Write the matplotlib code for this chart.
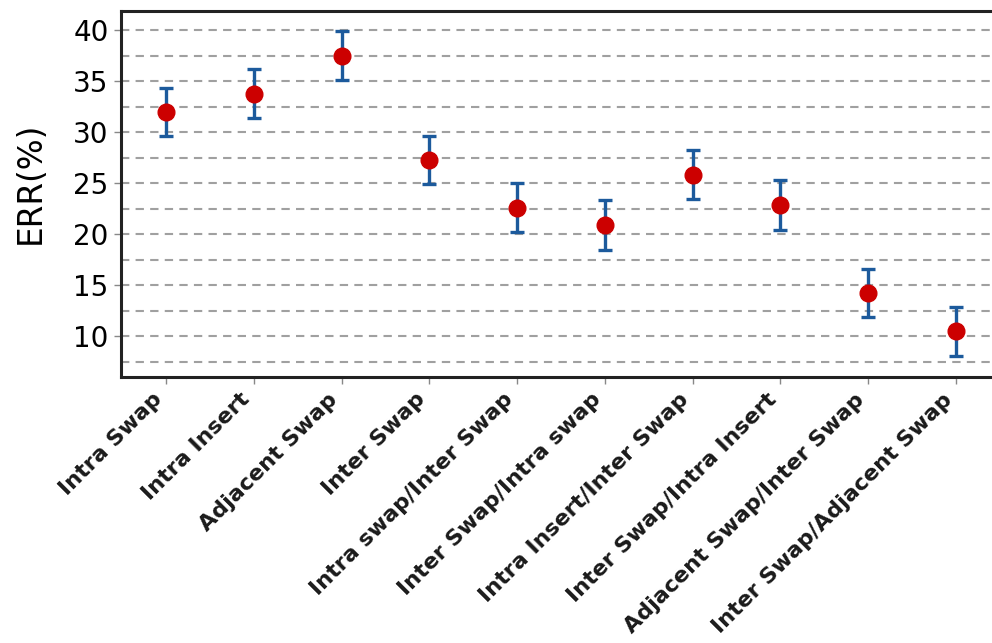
import matplotlib
matplotlib.use("Agg")
import matplotlib.pyplot as plt
import matplotlib.transforms as mtransforms
from matplotlib.ticker import MultipleLocator

# Neighbourhood operators and their ERR values (mean and error half-width)
operators = [
    "Intra Swap", "Intra Insert", "Adjacent Swap", "Inter Swap",
    "Intra swap/Inter Swap", "Inter Swap/Intra swap",
    "Intra Insert/Inter Swap", "Inter Swap/Intra Insert",
    "Adjacent Swap/Inter Swap", "Inter Swap/Adjacent Swap",
]
err_mean = [32.0, 33.8, 37.5, 27.3, 22.6, 20.9, 25.85, 22.85, 14.2, 10.5]
err_half = [2.35, 2.4, 2.4, 2.37, 2.4, 2.45, 2.4, 2.45, 2.35, 2.4]
y_ticks = [10, 15, 20, 25, 30, 35, 40]

fig = plt.figure(figsize=(9.92, 6.43), dpi=100)
ax = fig.add_axes([0.122, 0.4137, 0.886, 0.5693])

x = list(range(len(operators)))
ax.errorbar(x, err_mean, yerr=err_half, fmt="none", ecolor="#1c5a9c",
            elinewidth=2.4, capsize=5, capthick=2.4, zorder=3)
ax.plot(x, err_mean, "o", color="#cc0000", markersize=12, zorder=4)

ax.set_xlim(-0.513, 9.5)
ax.set_ylim(6.0, 41.9)
ax.set_yticks(y_ticks)
ax.yaxis.set_minor_locator(MultipleLocator(2.5))
ax.set_xticks(x)
ax.set_xticklabels(operators, rotation=45, ha="right", va="bottom",
                   rotation_mode="anchor", fontsize=16, fontweight="bold",
                   color="#1a1a1a")
# nudge the slanted labels a little to the right of their ticks
shift = mtransforms.ScaledTranslation(4 / 100, 0, fig.dpi_scale_trans)
for lbl in ax.get_xticklabels():
    lbl.set_transform(lbl.get_transform() + shift)

ax.tick_params(axis="y", labelsize=20, length=5, width=1, color="#888888", pad=4)
ax.tick_params(axis="y", which="minor", length=0)
ax.tick_params(axis="x", length=5, width=1, color="#888888", pad=14)
ax.set_ylabel("ERR(%)", fontsize=23.5, labelpad=15)
ax.yaxis.set_label_coords(-0.085, 0.53)

ax.yaxis.grid(True, which="both", linestyle=(0, (4, 3)), color="#a0a0a0",
              linewidth=1.5, zorder=0)
ax.set_axisbelow(True)

for side in ("left", "bottom", "top", "right"):
    ax.spines[side].set_linewidth(2.2)
    ax.spines[side].set_color("#222222")

fig.savefig("out.png", dpi=100)
